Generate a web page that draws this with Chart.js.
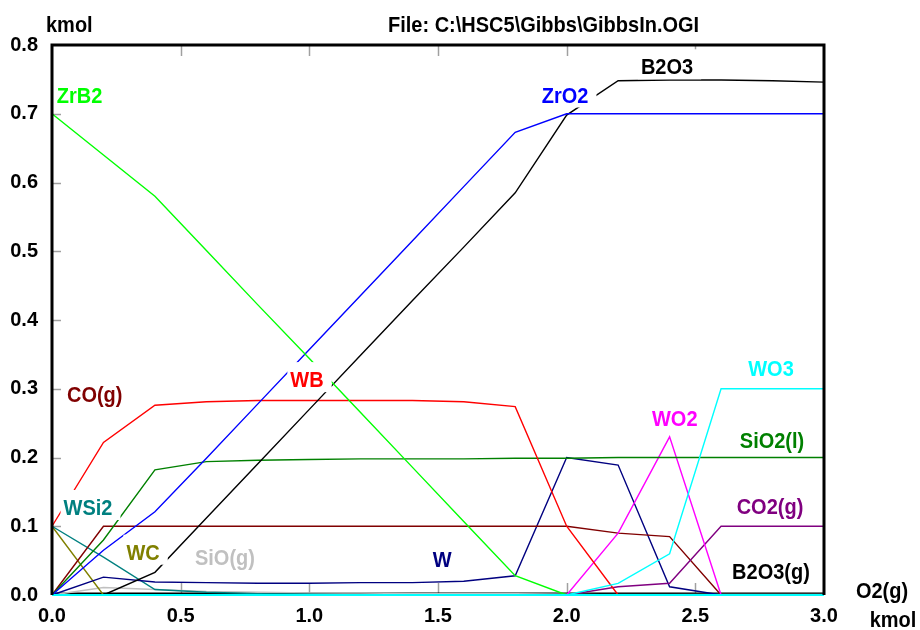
<!DOCTYPE html>
<html><head><meta charset="utf-8">
<script src="https://cdn.jsdelivr.net/npm/chart.js@4.4.1/dist/chart.umd.min.js"></script>
<style>html,body{margin:0;padding:0;background:#fff;}#wrap{width:920px;height:630px;}</style>
</head><body><div id="wrap"><canvas id="c" width="920" height="630"></canvas></div>
<script>
// O2(g) amount, kmol
const xs = [0,0.2,0.4,0.6,0.8,1.0,1.2,1.4,1.6,1.8,2.0,2.2,2.4,2.6,2.8,3.0];
const xTicks = [0,0.5,1.0,1.5,2.0,2.5,3.0];
const yTicks = [0,0.1,0.2,0.3,0.4,0.5,0.6,0.7,0.8];

const zrb2  = [0.70,0.64,0.580,0.501,0.422,0.344,0.265,0.186,0.107,0.028,0,0,0,0,0,0];
const zro2  = [0,0.065,0.121,0.199,0.278,0.357,0.436,0.515,0.594,0.673,0.700,0.700,0.700,0.700,0.700,0.700];
const b2o3  = [0,0,0.033,0.112,0.191,0.270,0.349,0.428,0.506,0.585,0.698,0.748,0.749,0.749,0.748,0.746];
const wb    = [0.10,0.222,0.276,0.281,0.283,0.283,0.283,0.283,0.281,0.274,0.100,0,0,0,0,0];
const co    = [0,0.10,0.10,0.10,0.10,0.10,0.10,0.10,0.10,0.10,0.10,0.090,0.085,0,0,0];
const sio2  = [0,0.080,0.182,0.194,0.196,0.197,0.198,0.198,0.198,0.199,0.199,0.200,0.200,0.200,0.200,0.200];
const w     = [0,0.026,0.019,0.018,0.017,0.017,0.018,0.018,0.020,0.028,0.200,0.189,0.012,0,0,0];
const wo2   = [0,0,0,0,0,0,0,0,0,0,0,0.090,0.230,0,0,0];
const wo3   = [0,0,0,0,0,0,0,0,0,0,0,0.017,0.060,0.300,0.300,0.300];
const co2   = [0,0,0,0,0,0,0,0,0,0,0,0.012,0.017,0.100,0.100,0.100];
const wsi2  = [0.10,0.055,0.008,0.004,0.002,0.001,0,0,0,0,0,0,0,0,0,0];
const wc    = [0.10,0,0,0,0,0,0,0,0,0,0,0,0,0,0,0];
const sio   = [0,0.011,0.008,0.005,0.004,0.003,0.003,0.002,0.002,0.002,0.001,0,0,0,0,0];
const b2o3g = [0,0,0,0,0,0,0,0,0,0,0,0.001,0.001,0.002,0.002,0.002];
const minor = [0,0,0,0,0,0,0,0,0,0,0,0,0,0,0,0];

// first drawn on top
const series = [
  {name:'minor species', data:minor, color:'#00ffff', width:2.2},
  {name:'WO3', data:wo3, color:'#00ffff'},
  {name:'ZrB2', data:zrb2, color:'#00ff00'},
  {name:'ZrO2', data:zro2, color:'#0000ff'},
  {name:'B2O3', data:b2o3, color:'#000000'},
  {name:'WB', data:wb, color:'#ff0000'},
  {name:'SiO2(l)', data:sio2, color:'#008000'},
  {name:'WO2', data:wo2, color:'#ff00ff'},
  {name:'CO2(g)', data:co2, color:'#800080'},
  {name:'CO(g)', data:co, color:'#800000'},
  {name:'W', data:w, color:'#000080'},
  {name:'WSi2', data:wsi2, color:'#008080'},
  {name:'WC', data:wc, color:'#808000'},
  {name:'B2O3(g)', data:b2o3g, color:'#333333'},
  {name:'SiO(g)', data:sio, color:'#c0c0c0'}
];

// label anchors (data coords of text centre)
const curveLabels = [
  {t:'ZrB2', x:0.107, y:0.728, c:'#00ff00'},
  {t:'ZrO2', x:1.994, y:0.728, c:'#0000ff'},
  {t:'B2O3', x:2.390, y:0.769, c:'#000000'},
  {t:'CO(g)', x:0.166, y:0.292, c:'#800000'},
  {t:'WB', x:0.991, y:0.314, c:'#ff0000'},
  {t:'WSi2', x:0.140, y:0.128, c:'#008080'},
  {t:'WC', x:0.354, y:0.063, c:'#808000'},
  {t:'SiO(g)', x:0.672, y:0.055, c:'#c0c0c0'},
  {t:'W', x:1.516, y:0.052, c:'#000080'},
  {t:'WO3', x:2.794, y:0.330, c:'#00ffff'},
  {t:'WO2', x:2.420, y:0.257, c:'#ff00ff'},
  {t:'SiO2(l)', x:2.798, y:0.225, c:'#008000'},
  {t:'CO2(g)', x:2.790, y:0.129, c:'#800080'},
  {t:'B2O3(g)', x:2.794, y:0.035, c:'#000000'}
];

const FONT = "'Liberation Sans', Arial, Helvetica, sans-serif";
const SY = 1.12;

function drawText(ctx, text, x, baseline, align, color, size){
  ctx.save();
  ctx.font = 'bold ' + size + 'px ' + FONT;
  ctx.fillStyle = color;
  ctx.textAlign = align;
  ctx.textBaseline = 'alphabetic';
  ctx.translate(x, baseline);
  ctx.scale(1, SY);
  ctx.fillText(text, 0, 0);
  ctx.restore();
}

const framePlugin = {
  id:'frame',
  beforeDatasetsDraw(chart){
    const {ctx, chartArea:a, scales:{x, y}} = chart;
    ctx.save();
    ctx.strokeStyle = '#a0a0a0';
    ctx.lineWidth = 1.5;
    xTicks.slice(1, -1).forEach(v => {
      const px = Math.round(x.getPixelForValue(v)) + 0.5;
      ctx.beginPath(); ctx.moveTo(px, a.top); ctx.lineTo(px, a.top + 11); ctx.stroke();
      ctx.beginPath(); ctx.moveTo(px, a.bottom); ctx.lineTo(px, a.bottom - 12); ctx.stroke();
    });
    yTicks.slice(1, -1).forEach(v => {
      const py = Math.round(y.getPixelForValue(v)) + 0.5;
      ctx.beginPath(); ctx.moveTo(a.left, py); ctx.lineTo(a.left + 9, py); ctx.stroke();
    });
    ctx.strokeStyle = '#000';
    ctx.lineWidth = 2;
    ctx.beginPath(); ctx.moveTo(a.left, a.bottom - 1.5); ctx.lineTo(a.right, a.bottom - 1.5); ctx.stroke();
    ctx.restore();
  },
  afterDatasetsDraw(chart){
    const {ctx, chartArea:a, scales:{x, y}} = chart;
    const size = 20;
    ctx.save();
    ctx.font = 'bold ' + size + 'px ' + FONT;
    curveLabels.forEach(l => {
      const cx = x.getPixelForValue(l.x);
      const cy = y.getPixelForValue(l.y);
      const ch = 0.716 * size * SY;
      const base = cy + ch / 2;
      const tw = ctx.measureText(l.t).width;
      ctx.fillStyle = '#fff';
      ctx.fillRect(cx - tw / 2 - 3, cy - ch / 2 - 9, tw + 11, ch + 14);
      drawText(ctx, l.t, cx, base, 'center', l.c, size);
    });
    // frame top/left/right
    ctx.strokeStyle = '#000';
    ctx.lineWidth = 3;
    ctx.beginPath();
    ctx.moveTo(a.left, a.bottom);
    ctx.lineTo(a.left, a.top);
    ctx.lineTo(a.right, a.top);
    ctx.lineTo(a.right, a.bottom);
    ctx.stroke();
    // axis titles
    drawText(ctx, 'kmol', 46, 32, 'left', '#000', 20);
    drawText(ctx, 'File: C:\\HSC5\\Gibbs\\GibbsIn.OGI', 388, 31.5, 'left', '#000', 20);
    drawText(ctx, 'O2(g)', 882, 598, 'center', '#000', 20);
    drawText(ctx, 'kmol', 893, 627, 'center', '#000', 20);
    ctx.restore();
  }
};

Chart.defaults.font.family = FONT;

new Chart(document.getElementById('c'), {
  type:'line',
  data:{
    datasets: series.map(s => ({
      label:s.name,
      data: xs.map((xv, i) => ({x:xv, y:s.data[i]})),
      borderColor:s.color,
      backgroundColor:s.color,
      borderWidth:s.width || 1.4,
      pointRadius:0,
      fill:false,
      tension:0,
      clip:false
    }))
  },
  options:{
    responsive:false,
    animation:false,
    events:[],
    layout:{padding:{left:0, right:96, top:45, bottom:0}},
    plugins:{legend:{display:false}, tooltip:{enabled:false}},
    scales:{
      x:{
        type:'linear', min:0, max:3,
        afterFit(s){ s.height = 35; },
        afterBuildTicks(s){ s.ticks = xTicks.map(v => ({value:v})); },
        ticks:{callback:v => Number(v).toFixed(1), font:{weight:'bold', size:20}, color:'#000', padding:1, maxRotation:0, autoSkip:false},
        grid:{display:false}, border:{display:false}
      },
      y:{
        type:'linear', min:0, max:0.8,
        afterFit(s){ s.width = 52; },
        afterBuildTicks(s){ s.ticks = yTicks.map(v => ({value:v})); },
        ticks:{callback:v => Number(v).toFixed(1), font:{weight:'bold', size:20}, color:'#000', padding:6, autoSkip:false},
        grid:{display:false}, border:{display:false}
      }
    }
  },
  plugins:[framePlugin]
});
</script>
</body></html>
